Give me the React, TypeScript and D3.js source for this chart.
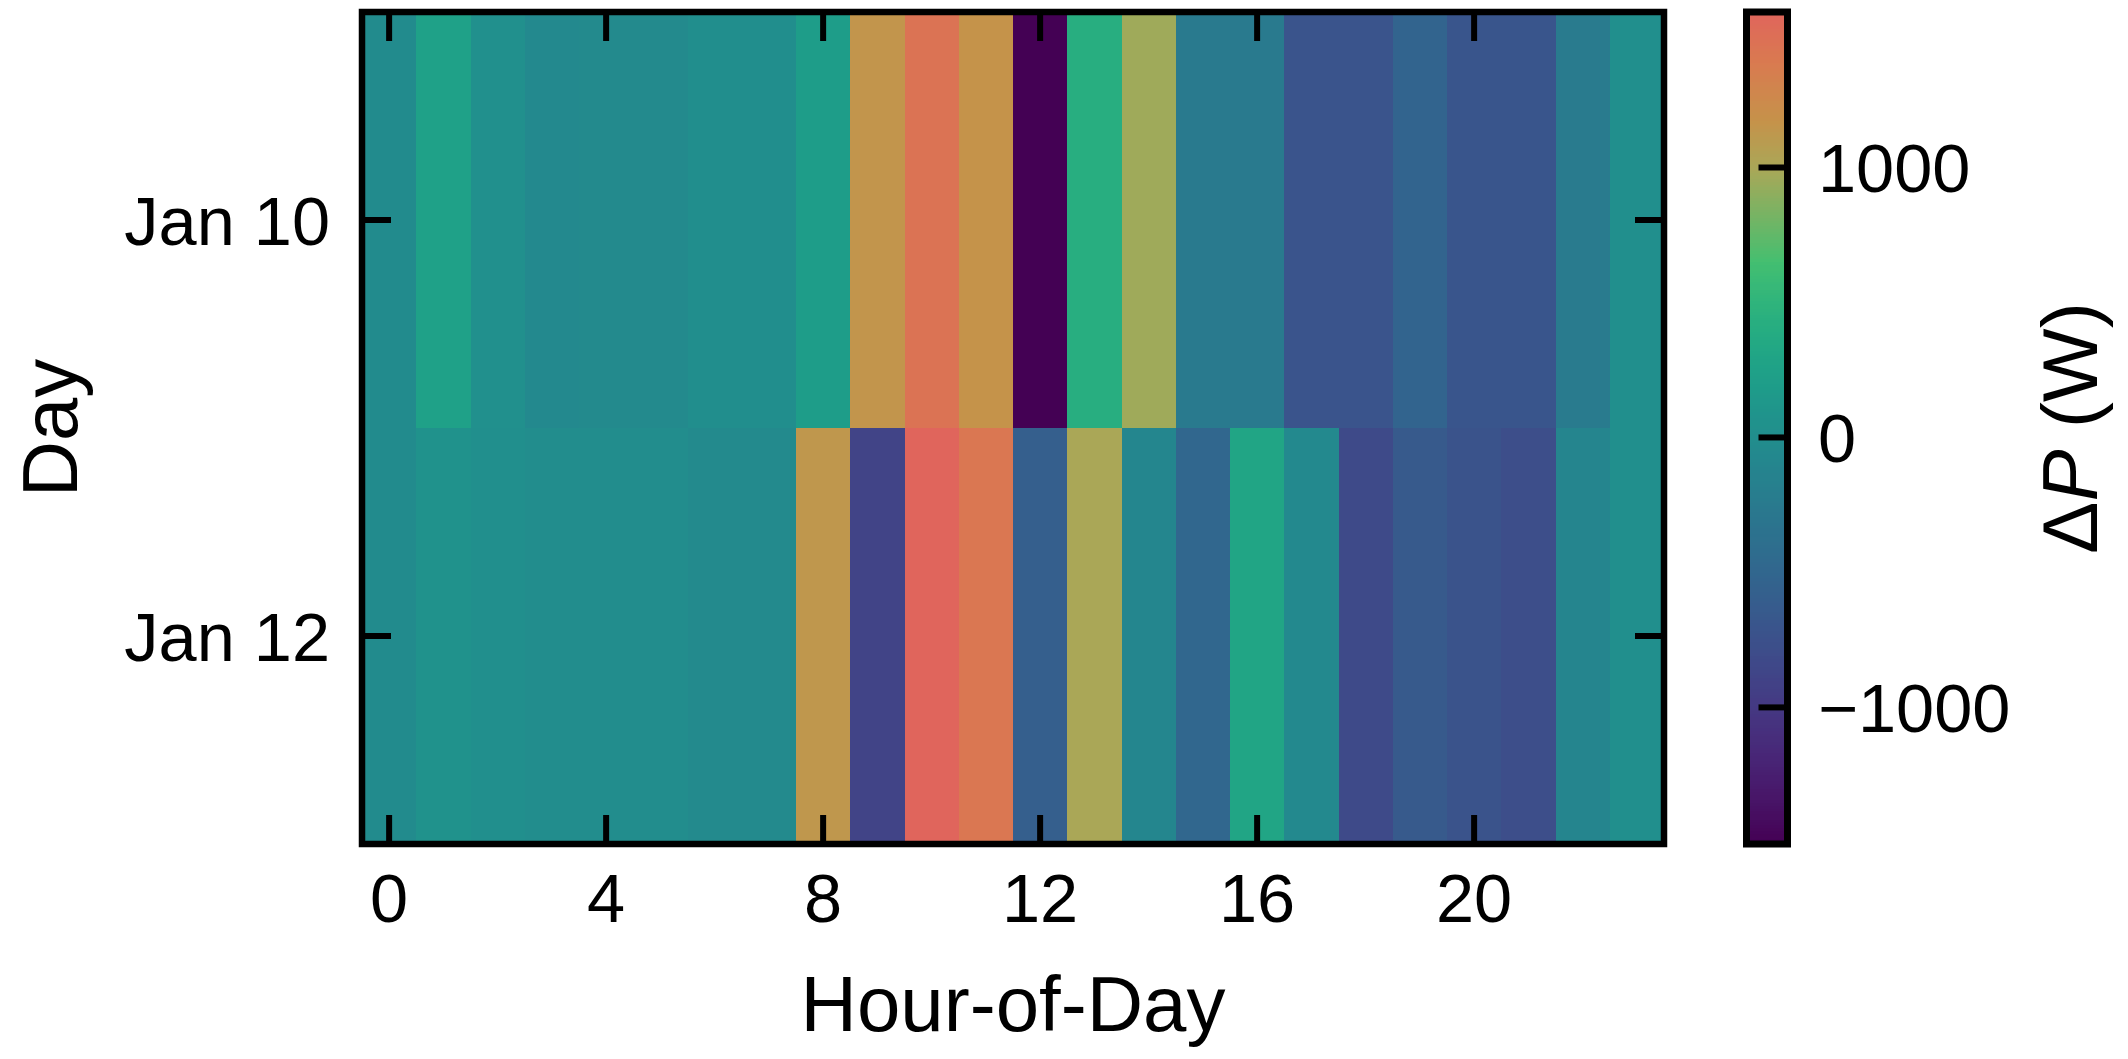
import React from "react";
import * as d3 from "d3";

const hours = [0, 1, 2, 3, 4, 5, 6, 7, 8, 9, 10, 11, 12, 13, 14, 15, 16, 17, 18, 19, 20, 21, 22, 23];
const days = ["Jan 10", "Jan 12"];
const jan10 = [-30, 250, 30, -50, -45, -45, 0, 5, 200, 1150, 1450, 1170, -1506, 430, 960, -250, -250, -700, -700, -520, -690, -690, -230, 20];
const jan12 = [-30, 50, 20, -10, -10, -10, -45, -45, 1130, -880, 1576, 1420, -580, 1000, -90, -490, 300, -60, -810, -650, -720, -780, -100, 20];
const xTicks = [0, 4, 8, 12, 16, 20];
const cbarTicks = [-1000, 0, 1000];

const W = 2128, H = 1059;
const L = 362, R = 1664, T = 12, B = 844;
const CB_L = 1746.5, CB_R = 1787.5;
const FONT = "'Liberation Sans', Arial, sans-serif";
const TICK_FS = 68.5;
const LABEL_FS = 78;

const warmStops: [number, string][] = [
  [0.7, d3.interpolateViridis(0.7)],
  [0.81, "#a8a858"],
  [0.87, "#c6924a"],
  [0.94, "#d97a50"],
  [1.0, "#e0655c"],
];
function cmap(t: number): string {
  t = Math.max(0, Math.min(1, t));
  if (t <= 0.7) return d3.interpolateViridis(t);
  for (let i = 0; i < warmStops.length - 1; i++) {
    const [a, ca] = warmStops[i];
    const [b, cb] = warmStops[i + 1];
    if (t <= b) return d3.interpolateRgb(ca, cb)((t - a) / (b - a));
  }
  return warmStops[warmStops.length - 1][1];
}

export default function App() {
  const rows = [jan10, jan12];
  const all = rows.flat();
  const [vmin, vmax] = d3.extent(all) as [number, number];
  const norm = d3.scaleLinear().domain([vmin, vmax]).range([0, 1]);
  const color = (v: number) => cmap(norm(v));

  const x = d3.scaleLinear().domain([-0.5, 23.5]).range([L, R]);
  const y = d3.scaleBand<string>().domain(days).range([T, B]);
  const cy = d3.scaleLinear().domain([vmin, vmax]).range([B, T]);

  const nSeg = 300;
  const segs = d3.range(nSeg).map((i) => {
    const v0 = vmin + ((vmax - vmin) * i) / nSeg;
    const v1 = vmin + ((vmax - vmin) * (i + 1)) / nSeg;
    return { v0, v1, c: color((v0 + v1) / 2) };
  });

  const tickLen = 29;
  const tickW = 6;
  const fmt = (v: number) => (v < 0 ? "\u2212" + Math.abs(v) : String(v));

  return (
    <svg width={W} height={H} style={{ position: "absolute", left: 0, top: 0, background: "#fff" }} fontFamily={FONT}>
      <rect x={0} y={0} width={W} height={H} fill="#fff" />
      {rows.map((row, ri) =>
        row.map((v, hi) => (
          <rect
            key={`${ri}-${hi}`}
            x={x(hours[hi] - 0.5)}
            y={y(days[ri])}
            width={x(hours[hi] + 0.5) - x(hours[hi] - 0.5) + 0.5}
            height={y.bandwidth() + 0.5}
            fill={color(v)}
            shapeRendering="crispEdges"
          />
        ))
      )}
      {xTicks.map((t) => (
        <g key={`xt${t}`}>
          <line x1={x(t)} x2={x(t)} y1={B} y2={B - tickLen} stroke="#000" strokeWidth={tickW} />
          <line x1={x(t)} x2={x(t)} y1={T} y2={T + tickLen} stroke="#000" strokeWidth={tickW} />
          <text x={x(t)} y={922} textAnchor="middle" fontSize={TICK_FS}>{t}</text>
        </g>
      ))}
      {days.map((d) => {
        const yc = (y(d) as number) + y.bandwidth() / 2;
        return (
          <g key={`yt${d}`}>
            <line x1={L} x2={L + tickLen} y1={yc} y2={yc} stroke="#000" strokeWidth={tickW} />
            <line x1={R} x2={R - tickLen} y1={yc} y2={yc} stroke="#000" strokeWidth={tickW} />
            <text x={330} y={yc + 24.5} textAnchor="end" fontSize={TICK_FS}>{d}</text>
          </g>
        );
      })}
      <rect x={L} y={T} width={R - L} height={B - T} fill="none" stroke="#000" strokeWidth={6.5} />
      <text x={(L + R) / 2} y={1031} textAnchor="middle" fontSize={LABEL_FS}>Hour-of-Day</text>
      <text transform={`translate(77, ${(T + B) / 2}) rotate(-90)`} textAnchor="middle" fontSize={LABEL_FS}>Day</text>

      {segs.map((s, i) => (
        <rect key={`cb${i}`} x={CB_L} y={cy(s.v1)} width={CB_R - CB_L} height={cy(s.v0) - cy(s.v1) + 0.6} fill={s.c} shapeRendering="crispEdges" />
      ))}
      {cbarTicks.map((t) => (
        <g key={`ct${t}`}>
          <line x1={CB_R} x2={CB_R - tickLen} y1={cy(t)} y2={cy(t)} stroke="#000" strokeWidth={tickW} />
          <text x={1818} y={cy(t) + 24.5} fontSize={TICK_FS}>{fmt(t)}</text>
        </g>
      ))}
      <rect x={CB_L} y={T} width={CB_R - CB_L} height={B - T} fill="none" stroke="#000" strokeWidth={7} />
      <text transform={`translate(2097, ${(T + B) / 2}) rotate(-90)`} textAnchor="middle" fontSize={LABEL_FS}>
        <tspan>Δ</tspan>
        <tspan fontStyle="italic">P</tspan>
        <tspan> (W)</tspan>
      </text>
    </svg>
  );
}
